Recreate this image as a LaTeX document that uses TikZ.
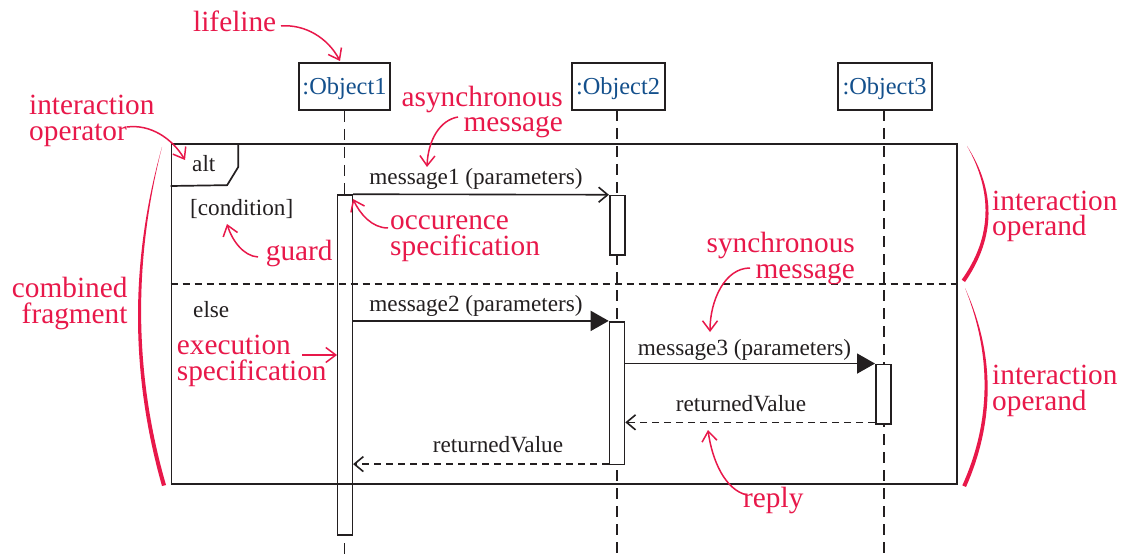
\documentclass[tikz,border=0pt]{standalone}
\usepackage{fontspec}
\setmainfont{Liberation Serif}
\usetikzlibrary{arrows.meta}
\definecolor{anno}{RGB}{232,24,74}
\definecolor{objblue}{RGB}{20,80,140}
\definecolor{ink}{RGB}{35,31,32}
\tikzset{
  objbox/.style={draw=ink, line width=2pt, fill=white, minimum height=47pt, inner sep=0pt,
    text=objblue, font=\fontsize{24.4}{28}\selectfont, text height=17pt, text depth=0pt},
  lifel/.style={draw=ink, line width=1.6pt, dash pattern=on 11pt off 7pt},
  actbox/.style={draw=ink, line width=1.6pt, fill=white, minimum width=15pt, inner sep=0pt},
  framebox/.style={draw=ink, line width=1.7pt, inner sep=0pt},
  frameline/.style={draw=ink, line width=1.7pt},
  sepline/.style={draw=ink, line width=1.5pt, dash pattern=on 7pt off 5pt},
  msg/.style={draw=ink, line width=1.6pt},
  asyncmsg/.style={msg, -{Straight Barb[length=9pt,width=15pt]}},
  syncmsg/.style={msg, -{Triangle[length=18pt,width=20pt]}},
  replymsg/.style={msg, dash pattern=on 7pt off 5pt, -{Straight Barb[length=9pt,width=15pt]}},
  lbl/.style={text=ink, font=\fontsize{23.2}{27}\selectfont, inner sep=0pt},
  annolbl/.style={text=anno, font=\fontsize{29.3}{25.5}\selectfont, inner sep=0pt},
  annoarrow/.style={draw=anno, line width=1.5pt, -{Straight Barb[length=10pt,width=15pt]}},
}
\begin{document}
\begin{tikzpicture}[x=1pt,y=-1pt]
\useasboundingbox (0,0) rectangle (1123,556);
\fill[white] (0,0) rectangle (1123,556);

% objects
\node[objbox, minimum width=91pt] (o1) at (344.5,86.5) {:Object1};
\node[objbox, minimum width=93pt] (o2) at (618,86.5) {:Object2};
\node[objbox, minimum width=94pt] (o3) at (884.5,86.5) {:Object3};
\coordinate (e1) at (344.5,556);
\coordinate (e2) at (617,556);
\coordinate (e3) at (884,556);
\draw[lifel] (o1.south) -- (e1);
\draw[lifel] (617,110) -- (e2);
\draw[lifel] (884,110) -- (e3);

% activations
\node[actbox, minimum height=340pt] (a1) at (344.8,365) {};
\node[actbox, minimum height=59.5pt] (a2) at (617.2,225.3) {};
\node[actbox, minimum height=142.6pt] (a3) at (617,393) {};
\node[actbox, minimum height=59.7pt] (a4) at (883.3,394.2) {};

% combined fragment
\node[framebox, minimum width=785.5pt, minimum height=339.7pt] (frm) at (564.25,313.85) {};
\draw[frameline] (frm.north west) ++(67.5,0) -- ++(0,24) -- ++(-11,18) -- (frm.west |- 0,186);
\draw[sepline] (frm.west |- 0,284) -- (frm.east |- 0,284);
\node[lbl, anchor=base west] (altL) at (192,171.7) {alt};
\node[lbl, anchor=base west] (cond) at (190,215) {[condition]};
\node[lbl, anchor=base west] (elseL) at (193,317) {else};

% messages
\draw[asyncmsg] (a1.north east) -- (a2.north west);
\node[lbl, anchor=base] (m1) at (476,185) {message1 (parameters)};
\draw[syncmsg] (a1.east |- a3.north) -- (a3.north west);
\node[lbl, anchor=base] (m2) at (476,311) {message2 (parameters)};
\draw[syncmsg] (a3.east |- a4.north) -- (a4.north west);
\node[lbl, anchor=base] (m3) at (744.5,355) {message3 (parameters)};
\draw[replymsg] ([yshift=2.5pt]a4.south west) -- ([yshift=2.5pt]a3.east |- a4.south);
\node[lbl, anchor=base] (r1) at (741,411.7) {returnedValue};
\draw[replymsg] ([yshift=1pt]a3.south west) -- ([yshift=1pt]a1.east |- a3.south);
\node[lbl, anchor=base] (r2) at (498,452) {returnedValue};

% annotation labels (multi-line nodes: base = last line)
\node[annolbl, anchor=base west] (lifelineL) at (193,32) {lifeline};
\node[annolbl, anchor=base west, align=left] (intop) at (29,140.5) {interaction\\operator};
\node[annolbl, anchor=base east, align=right] (comb) at (127.7,323) {combined\\fragment};
\node[annolbl, anchor=base east, align=right] (async) at (563,131.7) {asynchronous\\message};
\node[annolbl, anchor=base west, align=left] (occ) at (390,255) {occurence\\specification};
\node[annolbl, anchor=base west] (guardL) at (265.7,260) {guard};
\node[annolbl, anchor=base west, align=left] (exec) at (176.7,380) {execution\\specification};
\node[annolbl, anchor=base east, align=right] (sync) at (855,278.3) {synchronous\\message};
\node[annolbl, anchor=base west, align=left] (iop1) at (992,235.7) {interaction\\operand};
\node[annolbl, anchor=base west, align=left] (iop2) at (992,410) {interaction\\operand};
\node[annolbl, anchor=base west] (replyL) at (743,507) {reply};

% annotation arrow end points
\coordinate (lf-s) at (281,26);   \coordinate (lf-t) at (340,61);
\coordinate (io-s) at (127,127);  \coordinate (io-t) at (185,160);
\coordinate (as-s) at (458,117);  \coordinate (as-t) at (427,167);
\coordinate (oc-s) at (388,228);  \coordinate (oc-t) at (353,199);
\coordinate (gd-s) at (258,257);  \coordinate (gd-t) at (227,224);
\coordinate (ex-s) at (302,355);  \coordinate (ex-t) at (337,355);
\coordinate (sy-s) at (750,268);  \coordinate (sy-t) at (710,332);
\coordinate (rp-s) at (747,495);  \coordinate (rp-t) at (708,430);

\draw[annoarrow] (lf-s) .. controls (305,24) and (328,38) .. (lf-t);
\draw[annoarrow] (io-s) .. controls (150,124) and (172,138) .. (io-t);
\draw[annoarrow] (as-s) .. controls (440,120) and (428,140) .. (as-t);
\draw[annoarrow] (oc-s) .. controls (372,228) and (360,214) .. (oc-t);
\draw[annoarrow] (gd-s) .. controls (243,256) and (232,240) .. (gd-t);
\draw[annoarrow] (ex-s) -- (ex-t);
\draw[annoarrow] (sy-s) .. controls (725,268) and (710,300) .. (sy-t);
\draw[annoarrow] (rp-s) .. controls (725,490) and (712,460) .. (rp-t);

% braces
\fill[anno] (162,147) .. controls (130,260) and (130,373) .. (162,486) -- (166,485)
  .. controls (133.5,373) and (133.5,260) .. (162,147) -- cycle;
\fill[anno] (967,146) .. controls (996,191) and (996,237) .. (965,282) -- (961.7,279.7)
  .. controls (992.5,237) and (992.5,191) .. (967,146) -- cycle;
\fill[anno] (965,288) .. controls (995,354) and (995,421) .. (966,487) -- (962.3,485.4)
  .. controls (991.5,421) and (991.5,354) .. (965,288) -- cycle;
\end{tikzpicture}
\end{document}
